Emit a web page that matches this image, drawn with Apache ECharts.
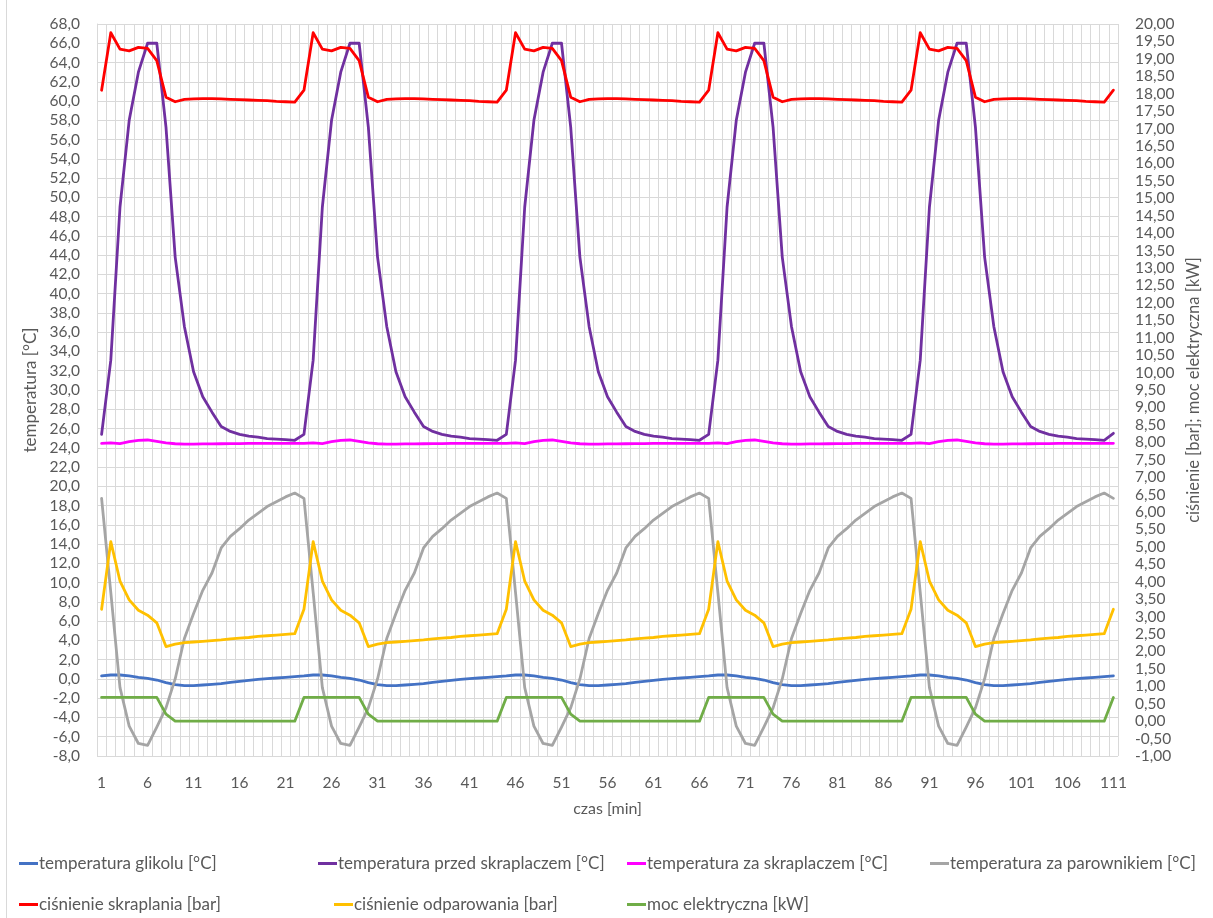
<!DOCTYPE html>
<html>
<head>
<meta charset="utf-8">
<script src="https://cdn.jsdelivr.net/npm/echarts@6/dist/echarts.min.js"></script>
<style>
  html, body { margin: 0; padding: 0; background: #ffffff; }
  #chart { width: 1213px; height: 918px; }
</style>
</head>
<body>
<div id="chart"></div>
<script>
// Minutes on the category axis: 1 .. 111
const minutes = [
  1,2,3,4,5,6,7,8,9,10,11,12,13,14,15,16,17,18,19,20,21,22,
  23,24,25,26,27,28,29,30,31,32,33,34,35,36,37,38,39,40,41,42,43,44,
  45,46,47,48,49,50,51,52,53,54,55,56,57,58,59,60,61,62,63,64,65,66,
  67,68,69,70,71,72,73,74,75,76,77,78,79,80,81,82,83,84,85,86,87,88,
  89,90,91,92,93,94,95,96,97,98,99,100,101,102,103,104,105,106,107,108,109,110,
  111
];

// Temperatures [°C] (left axis)
const tGlikolu = [
  0.31,0.41,0.41,0.31,0.17,0.07,-0.11,-0.39,-0.60,-0.70,-0.70,-0.63,-0.56,-0.49,-0.35,-0.25,-0.14,-0.04,0.03,0.10,0.17,0.24,
  0.31,0.41,0.41,0.31,0.17,0.07,-0.11,-0.39,-0.60,-0.70,-0.70,-0.63,-0.56,-0.49,-0.35,-0.25,-0.14,-0.04,0.03,0.10,0.17,0.24,
  0.31,0.41,0.41,0.31,0.17,0.07,-0.11,-0.39,-0.60,-0.70,-0.70,-0.63,-0.56,-0.49,-0.35,-0.25,-0.14,-0.04,0.03,0.10,0.17,0.24,
  0.31,0.41,0.41,0.31,0.17,0.07,-0.11,-0.39,-0.60,-0.70,-0.70,-0.63,-0.56,-0.49,-0.35,-0.25,-0.14,-0.04,0.03,0.10,0.17,0.24,
  0.31,0.41,0.41,0.31,0.17,0.07,-0.11,-0.39,-0.60,-0.70,-0.70,-0.63,-0.56,-0.49,-0.35,-0.25,-0.14,-0.04,0.03,0.10,0.17,0.24,
  0.31
];
const tPrzedSkraplaczem = [
  25.4,33.1,49.0,58.0,63.0,66.0,66.0,57.3,43.8,36.6,31.9,29.3,27.7,26.2,25.7,25.4,25.2,25.1,24.95,24.9,24.85,24.78,
  25.4,33.1,49.0,58.0,63.0,66.0,66.0,57.3,43.8,36.6,31.9,29.3,27.7,26.2,25.7,25.4,25.2,25.1,24.95,24.9,24.85,24.78,
  25.4,33.1,49.0,58.0,63.0,66.0,66.0,57.3,43.8,36.6,31.9,29.3,27.7,26.2,25.7,25.4,25.2,25.1,24.95,24.9,24.85,24.78,
  25.4,33.1,49.0,58.0,63.0,66.0,66.0,57.3,43.8,36.6,31.9,29.3,27.7,26.2,25.7,25.4,25.2,25.1,24.95,24.9,24.85,24.78,
  25.4,33.1,49.0,58.0,63.0,66.0,66.0,57.3,43.8,36.6,31.9,29.3,27.7,26.2,25.7,25.4,25.2,25.1,24.95,24.9,24.85,24.78,
  25.5
];
const tZaSkraplaczem = [
  24.46,24.50,24.44,24.63,24.78,24.81,24.67,24.50,24.42,24.39,24.39,24.40,24.41,24.42,24.43,24.44,24.45,24.45,24.46,24.46,24.46,24.46,
  24.46,24.50,24.44,24.63,24.78,24.81,24.67,24.50,24.42,24.39,24.39,24.40,24.41,24.42,24.43,24.44,24.45,24.45,24.46,24.46,24.46,24.46,
  24.46,24.50,24.44,24.63,24.78,24.81,24.67,24.50,24.42,24.39,24.39,24.40,24.41,24.42,24.43,24.44,24.45,24.45,24.46,24.46,24.46,24.46,
  24.46,24.50,24.44,24.63,24.78,24.81,24.67,24.50,24.42,24.39,24.39,24.40,24.41,24.42,24.43,24.44,24.45,24.45,24.46,24.46,24.46,24.46,
  24.46,24.50,24.44,24.63,24.78,24.81,24.67,24.50,24.42,24.39,24.39,24.40,24.41,24.42,24.43,24.44,24.45,24.45,24.46,24.46,24.46,24.46,
  24.46
];
const tZaParownikiem = [
  18.75,9.0,-0.9,-4.9,-6.7,-6.9,-5.0,-3.0,0.0,4.2,6.8,9.2,11.0,13.6,14.8,15.6,16.5,17.2,17.9,18.4,18.9,19.3,
  18.75,9.0,-0.9,-4.9,-6.7,-6.9,-5.0,-3.0,0.0,4.2,6.8,9.2,11.0,13.6,14.8,15.6,16.5,17.2,17.9,18.4,18.9,19.3,
  18.75,9.0,-0.9,-4.9,-6.7,-6.9,-5.0,-3.0,0.0,4.2,6.8,9.2,11.0,13.6,14.8,15.6,16.5,17.2,17.9,18.4,18.9,19.3,
  18.75,9.0,-0.9,-4.9,-6.7,-6.9,-5.0,-3.0,0.0,4.2,6.8,9.2,11.0,13.6,14.8,15.6,16.5,17.2,17.9,18.4,18.9,19.3,
  18.75,9.0,-0.9,-4.9,-6.7,-6.9,-5.0,-3.0,0.0,4.2,6.8,9.2,11.0,13.6,14.8,15.6,16.5,17.2,17.9,18.4,18.9,19.3,
  18.75
];

// Pressures [bar] and electric power [kW] (right axis)
const pSkraplania = [
  18.10,19.75,19.28,19.23,19.33,19.30,18.95,17.90,17.77,17.84,17.85,17.86,17.86,17.85,17.84,17.83,17.82,17.81,17.80,17.78,17.77,17.76,
  18.10,19.75,19.28,19.23,19.33,19.30,18.95,17.90,17.77,17.84,17.85,17.86,17.86,17.85,17.84,17.83,17.82,17.81,17.80,17.78,17.77,17.76,
  18.10,19.75,19.28,19.23,19.33,19.30,18.95,17.90,17.77,17.84,17.85,17.86,17.86,17.85,17.84,17.83,17.82,17.81,17.80,17.78,17.77,17.76,
  18.10,19.75,19.28,19.23,19.33,19.30,18.95,17.90,17.77,17.84,17.85,17.86,17.86,17.85,17.84,17.83,17.82,17.81,17.80,17.78,17.77,17.76,
  18.10,19.75,19.28,19.23,19.33,19.30,18.95,17.90,17.77,17.84,17.85,17.86,17.86,17.85,17.84,17.83,17.82,17.81,17.80,17.78,17.77,17.76,
  18.10
];
const pOdparowania = [
  3.21,5.15,4.02,3.48,3.18,3.04,2.82,2.14,2.21,2.25,2.27,2.29,2.31,2.33,2.36,2.38,2.40,2.43,2.45,2.47,2.49,2.51,
  3.21,5.15,4.02,3.48,3.18,3.04,2.82,2.14,2.21,2.25,2.27,2.29,2.31,2.33,2.36,2.38,2.40,2.43,2.45,2.47,2.49,2.51,
  3.21,5.15,4.02,3.48,3.18,3.04,2.82,2.14,2.21,2.25,2.27,2.29,2.31,2.33,2.36,2.38,2.40,2.43,2.45,2.47,2.49,2.51,
  3.21,5.15,4.02,3.48,3.18,3.04,2.82,2.14,2.21,2.25,2.27,2.29,2.31,2.33,2.36,2.38,2.40,2.43,2.45,2.47,2.49,2.51,
  3.21,5.15,4.02,3.48,3.18,3.04,2.82,2.14,2.21,2.25,2.27,2.29,2.31,2.33,2.36,2.38,2.40,2.43,2.45,2.47,2.49,2.51,
  3.21
];
const mocElektryczna = [
  0.68,0.68,0.68,0.68,0.68,0.68,0.68,0.20,0,0,0,0,0,0,0,0,0,0,0,0,0,0,
  0.68,0.68,0.68,0.68,0.68,0.68,0.68,0.20,0,0,0,0,0,0,0,0,0,0,0,0,0,0,
  0.68,0.68,0.68,0.68,0.68,0.68,0.68,0.20,0,0,0,0,0,0,0,0,0,0,0,0,0,0,
  0.68,0.68,0.68,0.68,0.68,0.68,0.68,0.20,0,0,0,0,0,0,0,0,0,0,0,0,0,0,
  0.68,0.68,0.68,0.68,0.68,0.68,0.68,0.20,0,0,0,0,0,0,0,0,0,0,0,0,0,0,
  0.68
];

const FONT = 'Lato';
const TXT = '#595959';
const GRID = '#d9d9d9';

function comma(v, d) { return v.toFixed(d).replace('.', ','); }

function line(name, data, color, yAxisIndex) {
  return {
    name, type: 'line', data, yAxisIndex,
    symbol: 'none', smooth: false,
    lineStyle: { color, width: 2.8, cap: 'round', join: 'round' },
    itemStyle: { color },
    emphasis: { disabled: true }
  };
}

const series = [
  line('temperatura glikolu [°C]', tGlikolu, '#4472C4', 0),
  line('temperatura przed skraplaczem [°C]', tPrzedSkraplaczem, '#7030A0', 0),
  line('temperatura za skraplaczem [°C]', tZaSkraplaczem, '#FF00FF', 0),
  line('temperatura za parownikiem [°C]', tZaParownikiem, '#A5A5A5', 0),
  line('ciśnienie skraplania [bar]', pSkraplania, '#FF0000', 1),
  line('ciśnienie odparowania [bar]', pOdparowania, '#FFC000', 1),
  line('moc elektryczna [kW]', mocElektryczna, '#70AD47', 1)
];

// legend entries placed in two rows under the plot
const legendSlots = [
  [0, 14, 860], [1, 313, 860], [2, 622, 860], [3, 925, 860],
  [4, 14, 901], [5, 329, 901], [6, 622, 901]
];

const chart = echarts.init(document.getElementById('chart'), null, { renderer: 'canvas' });
chart.setOption({
  animation: false,
  backgroundColor: '#ffffff',
  textStyle: { fontFamily: FONT },
  grid: { left: 97, right: 95, top: 24, bottom: 162, containLabel: false },
  graphic: [{
    type: 'line', silent: true,
    shape: { x1: 6.5, y1: 0, x2: 6.5, y2: 918 },
    style: { stroke: GRID, lineWidth: 1 }
  }],
  legend: legendSlots.map(([i, x, y]) => ({
    data: [series[i].name],
    left: x, top: y - 10,
    icon: 'rect', itemWidth: 19, itemHeight: 3, itemGap: 0,
    selectedMode: false,
    textStyle: { color: TXT, fontSize: 17, fontFamily: FONT, padding: [0, 0, 0, -4] }
  })),
  xAxis: {
    type: 'category', data: minutes, boundaryGap: true,
    name: 'czas [min]', nameLocation: 'middle', nameGap: 45,
    nameTextStyle: { color: TXT, fontSize: 16, fontFamily: FONT },
    axisLine: { show: true, lineStyle: { color: GRID, width: 1 } },
    axisTick: { show: false },
    axisLabel: { interval: 4, margin: 19, color: TXT, fontSize: 15.5, fontFamily: FONT },
    splitLine: { show: true, interval: 0, lineStyle: { color: GRID, width: 1 } }
  },
  yAxis: [
    {
      type: 'value', position: 'left', min: -8, max: 68, interval: 2,
      name: 'temperatura [°C]', nameLocation: 'middle', nameGap: 57,
      nameTextStyle: { color: TXT, fontSize: 17, fontFamily: FONT },
      axisLine: { show: true, lineStyle: { color: GRID, width: 1 } },
      axisTick: { show: false },
      axisLabel: { margin: 17, color: TXT, fontSize: 15.5, fontFamily: FONT, formatter: v => comma(v, 1) },
      splitLine: { show: true, lineStyle: { color: GRID, width: 1 } }
    },
    {
      type: 'value', position: 'right', min: -1, max: 20, interval: 0.5,
      name: 'ciśnienie [bar]; moc elektryczna [kW]', nameLocation: 'middle', nameGap: 66,
      nameTextStyle: { color: TXT, fontSize: 16.5, fontFamily: FONT },
      axisLine: { show: false },
      axisTick: { show: false },
      axisLabel: { margin: 17, color: TXT, fontSize: 15.5, fontFamily: FONT, formatter: v => comma(v, 2) },
      splitLine: { show: false }
    }
  ],
  series
});
</script>
</body>
</html>
